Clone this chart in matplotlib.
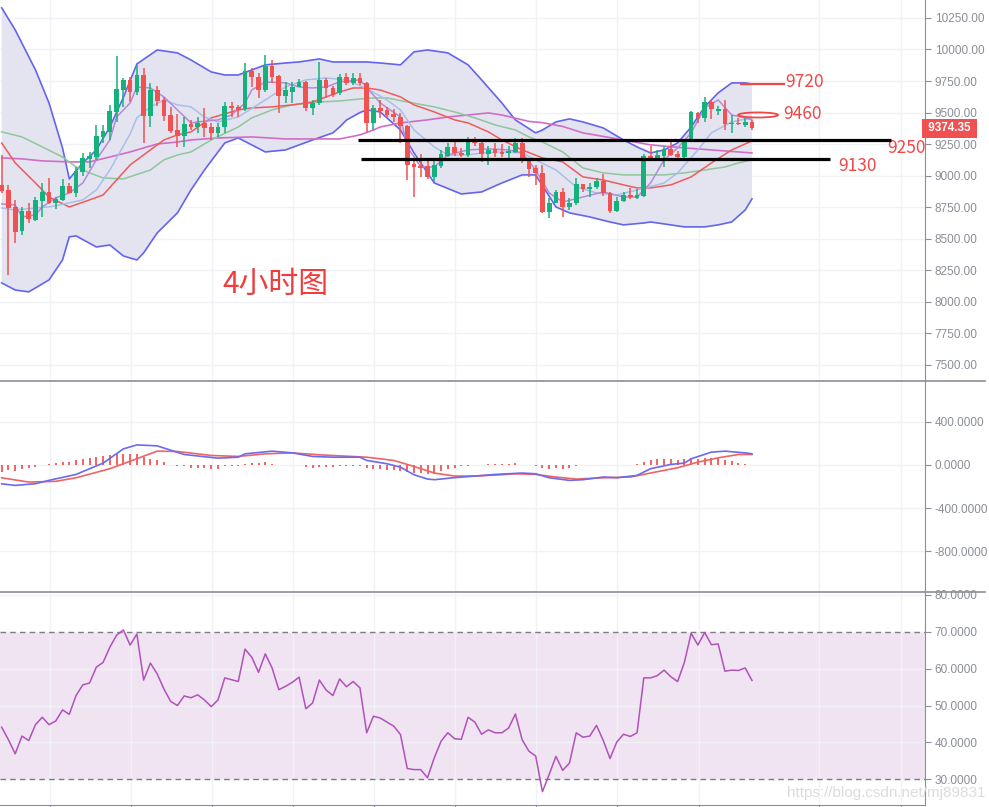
import numpy as np
import matplotlib
matplotlib.use('Agg')
import matplotlib.pyplot as plt
import matplotlib.transforms as mtransforms
from matplotlib.lines import Line2D
from matplotlib.patches import Ellipse

# ---- 4h candles ----
opens = [8926, 8886, 8754, 8564, 8720, 8649, 8802, 8873, 8786, 8807,
         8921, 8865, 9032, 9130, 9146, 9309, 9349, 9508, 9679, 9759,
         9666, 9798, 9476, 9679, 9600, 9481, 9362, 9315, 9410, 9389,
         9415, 9383, 9336, 9383, 9552, 9542, 9526, 9833, 9780, 9679,
         9872, 9790, 9634, 9666, 9706, 9743, 9534, 9576, 9759, 9698,
         9653, 9780, 9732, 9772, 9732, 9415, 9539, 9521, 9489, 9468,
         9394, 9093, 9077, 9077, 8993, 9077, 9156, 9225, 9183, 9164,
         9278, 9257, 9172, 9209, 9191, 9177, 9191, 9262, 9125, 9058,
         9019, 8715, 8786, 8874, 8749, 8781, 8934, 8895, 8908, 8961,
         8866, 8723, 8802, 8847, 8826, 8839, 9156, 9138, 9156, 9209,
         9172, 9151, 9283, 9500, 9455, 9582, 9516, 9529, 9407, 9418,
         9405, 9428]
highs = [9164, 8926, 8807, 8754, 8781, 8834, 8940, 8984, 8834, 8974,
         8945, 9071, 9177, 9190, 9402, 9402, 9560, 9949, 9772, 9785,
         9877, 9851, 9732, 9711, 9626, 9542, 9486, 9468, 9440, 9468,
         9534, 9420, 9420, 9587, 9587, 9560, 9891, 9851, 9811, 9957,
         9917, 9798, 9745, 9745, 9764, 9753, 9600, 9904, 9772, 9711,
         9806, 9811, 9811, 9811, 9745, 9561, 9600, 9547, 9526, 9494,
         9402, 9130, 9172, 9125, 9130, 9204, 9262, 9270, 9217, 9304,
         9310, 9283, 9236, 9257, 9251, 9236, 9296, 9296, 9138, 9085,
         9085, 8821, 8886, 8900, 8821, 8979, 8934, 8940, 8979, 9014,
         8874, 8829, 8874, 8900, 8892, 9172, 9236, 9204, 9236, 9278,
         9198, 9288, 9516, 9508, 9627, 9600, 9552, 9600, 9481, 9455,
         9455, 9440]
lows = [8860, 8213, 8469, 8530, 8622, 8644, 8670, 8776, 8736, 8800,
        8860, 8834, 8997, 9058, 9124, 9262, 9283, 9428, 9547, 9587,
        9640, 9262, 9383, 9552, 9434, 9341, 9230, 9230, 9360, 9341,
        9304, 9283, 9304, 9336, 9468, 9468, 9515, 9706, 9613, 9666,
        9732, 9494, 9579, 9574, 9700, 9515, 9481, 9560, 9613, 9626,
        9640, 9719, 9719, 9719, 9349, 9362, 9455, 9455, 9428, 9257,
        8966, 8829, 8993, 8971, 8953, 9059, 9146, 9156, 9146, 9151,
        9236, 9111, 9085, 9146, 9146, 9138, 9183, 9103, 8987, 8926,
        8702, 8662, 8781, 8675, 8728, 8768, 8874, 8834, 8892, 8839,
        8707, 8715, 8794, 8813, 8813, 8834, 9130, 9125, 9066, 9156,
        9130, 9119, 9270, 9415, 9428, 9447, 9481, 9362, 9341, 9402,
        9383, 9362]
closes = [8881, 8747, 8556, 8720, 8654, 8807, 8868, 8781, 8815, 8918,
          8865, 9037, 9138, 9156, 9315, 9354, 9513, 9685, 9759, 9666,
          9798, 9476, 9679, 9595, 9476, 9354, 9315, 9410, 9384, 9420,
          9381, 9336, 9383, 9552, 9534, 9521, 9833, 9780, 9679, 9872,
          9785, 9634, 9679, 9700, 9743, 9534, 9579, 9759, 9693, 9640,
          9780, 9732, 9772, 9732, 9415, 9539, 9516, 9481, 9463, 9394,
          9085, 9072, 9059, 8993, 9085, 9172, 9225, 9177, 9164, 9278,
          9257, 9172, 9204, 9183, 9172, 9198, 9262, 9125, 9051, 9019,
          8715, 8786, 8874, 8749, 8786, 8934, 8892, 8908, 8961, 8866,
          8723, 8802, 8847, 8829, 8847, 9156, 9138, 9164, 9209, 9164,
          9151, 9283, 9508, 9455, 9582, 9526, 9526, 9407, 9418, 9407,
          9428, 9374.35]

# ---- indicator lines (candle index, value) ----
bb_up_i = [0, 2, 5, 7, 9, 10, 12, 14, 16, 18, 20, 23, 26, 28, 31, 33, 35, 37, 39, 42,
           44, 47, 49, 52, 54, 56, 59, 61, 63, 66, 69, 71, 74, 76, 79, 80, 82, 84, 86, 89,
           92, 94, 96, 98, 100, 102, 104, 106, 108, 110, 111]
bb_up = [10330, 10155, 9838, 9576, 9220, 8974, 9101, 9204, 9386, 9620, 9885, 9996, 9973, 9917, 9822, 9798, 9798, 9838, 9878, 9893,
         9901, 9925, 9901, 9901, 9901, 9893, 9878, 9981, 9996, 9973, 9878, 9759, 9576, 9442, 9339, 9362, 9426, 9450, 9426, 9378,
         9283, 9228, 9180, 9204, 9259, 9386, 9545, 9656, 9735, 9735, 9727]
bb_lo_i = [0, 2, 4, 7, 9, 10, 11, 14, 16, 18, 20, 21, 23, 26, 28, 30, 33, 35, 39, 42,
           46, 49, 50, 51, 53, 54, 56, 59, 61, 64, 68, 71, 74, 77, 79, 82, 84, 87, 90, 92,
           95, 96, 99, 101, 104, 106, 108, 110, 111]
bb_lo = [8150, 8094, 8079, 8174, 8332, 8515, 8523, 8435, 8451, 8364, 8332, 8388, 8546, 8705, 8887, 9045, 9259, 9299, 9188, 9204,
         9283, 9339, 9386, 9440, 9500, 9521, 9505, 9362, 9180, 8942, 8855, 8871, 8942, 9006, 9006, 8752, 8705, 8673, 8633, 8610,
         8625, 8633, 8610, 8594, 8594, 8610, 8633, 8728, 8816]
mid_i = [0, 2, 5, 7, 10, 12, 14, 16, 19, 20, 22, 24, 26, 28, 30, 32, 35, 39, 42, 45,
         48, 51, 54, 57, 59, 61, 64, 66, 69, 71, 74, 77, 79, 82, 85, 88, 91, 94, 98, 100,
         103, 105, 108, 111]
mid = [8744, 8728, 8744, 8752, 8784, 8808, 8887, 9045, 9330, 9458, 9545, 9600, 9561, 9545, 9465, 9426, 9465, 9600, 9703, 9759,
       9774, 9759, 9690, 9600, 9521, 9362, 9228, 9164, 9164, 9180, 9188, 9180, 9125, 9045, 8911, 8863, 8847, 8887, 8942, 9022,
       9204, 9339, 9426, 9458]
pur_i = [0, 2, 3, 5, 6, 8, 10, 12, 14, 16, 17, 19, 20, 22, 24, 26, 28, 29, 32, 34,
         36, 37, 39, 42, 44, 46, 48, 50, 53, 54, 56, 59, 60, 62, 64, 66, 69, 72, 75, 77,
         79, 81, 83, 86, 89, 92, 94, 96, 98, 100, 102, 104, 106, 108, 110, 111]
pur = [8776, 8768, 8673, 8689, 8752, 8824, 8863, 8942, 9125, 9283, 9465, 9576, 9703, 9695, 9624, 9521, 9418, 9426, 9442, 9481,
       9576, 9679, 9743, 9735, 9703, 9695, 9703, 9743, 9759, 9700, 9576, 9465, 9228, 9069, 9069, 9164, 9204, 9212, 9204, 9180,
       9045, 8863, 8792, 8831, 8871, 8831, 8831, 8942, 9125, 9220, 9339, 9537, 9600, 9481, 9458, 9442]
red_i = [0, 2, 5, 7, 10, 13, 15, 17, 19, 22, 24, 26, 28, 31, 35, 37, 40, 43, 46, 48,
         50, 52, 54, 56, 59, 61, 64, 67, 69, 72, 74, 77, 80, 83, 86, 89, 92, 94, 96, 99,
         102, 105, 108, 111]
red = [9259, 9101, 8942, 8831, 8752, 8808, 8847, 8966, 9085, 9204, 9283, 9323, 9347, 9458, 9521, 9537, 9545, 9561, 9584, 9624,
       9664, 9695, 9695, 9679, 9624, 9561, 9505, 9442, 9418, 9347, 9283, 9204, 9141, 9109, 8990, 8966, 8927, 8903, 8903, 8927,
       8990, 9101, 9204, 9275]
grn_i = [0, 3, 6, 9, 11, 13, 15, 18, 22, 24, 26, 28, 31, 35, 37, 40, 43, 47, 50, 53,
         55, 57, 60, 64, 67, 70, 73, 76, 78, 80, 83, 86, 89, 92, 95, 98, 101, 104, 107, 109,
         111]
grn = [9347, 9307, 9228, 9148, 9069, 9022, 8982, 8974, 9045, 9125, 9164, 9188, 9283, 9386, 9458, 9521, 9561, 9584, 9592, 9608,
       9616, 9616, 9584, 9545, 9505, 9458, 9402, 9362, 9307, 9267, 9188, 9061, 9022, 9006, 9006, 9006, 9022, 9045, 9069, 9101,
       9125]
mag_i = [0, 3, 6, 10, 13, 16, 19, 21, 23, 26, 28, 32, 37, 42, 47, 50, 53, 55, 56, 59,
         63, 66, 69, 72, 74, 78, 80, 83, 86, 92, 96, 101, 111]
mag = [9141, 9133, 9117, 9109, 9109, 9148, 9188, 9220, 9251, 9267, 9283, 9299, 9307, 9291, 9291, 9291, 9323, 9362, 9386, 9418,
       9442, 9465, 9481, 9497, 9481, 9430, 9420, 9390, 9339, 9283, 9244, 9220, 9180]

# ---- MACD ----
dif_i = [0, 2, 5, 7, 11, 15, 18, 20, 23, 27, 32, 35, 36, 40, 43, 46, 49, 53, 54, 57,
         59, 61, 63, 64, 67, 70, 73, 77, 79, 81, 84, 86, 89, 91, 94, 96, 99, 101, 102, 105,
         107, 110, 111]
dif = [-175, -190, -174, -143, -88, 17, 149, 186, 177, 97, 63, 72, 103, 128, 112, 79, 72, 72, 42, 11,
       -20, -91, -131, -137, -118, -103, -88, -75, -82, -119, -143, -137, -112, -119, -97, -35, 5, 17, 57, 119,
       128, 112, 103]
dea_i = [0, 4, 8, 11, 16, 19, 23, 26, 31, 35, 39, 43, 47, 54, 58, 61, 64, 67, 70, 74,
         76, 79, 82, 85, 89, 93, 96, 100, 103, 106, 109, 111]
dea = [-119, -159, -152, -119, -35, 35, 128, 125, 88, 79, 103, 112, 94, 72, 42, -14, -75, -103, -103, -91,
       -82, -88, -112, -131, -119, -112, -75, -26, 26, 66, 97, 97]
hist = [-66, -51, -57, -35, -26, -20, -3, 5, 17, 26,
        26, 42, 51, 63, 72, 79, 88, 97, 103, 97,
        97, 72, 57, 42, 26, 3, -14, -14, -26, -26,
        -26, -35, -35, -14, -14, -8, 5, 17, 17, 26,
        11, 2, -2, 2, -3, -20, -26, -20, -20, -20,
        -11, -11, -8, -8, -26, -35, -35, -45, -51, -57,
        -66, -75, -75, -82, -82, -57, -35, -26, -14, -8,
        -2, 3, 5, 5, 5, 11, 17, 2, -1, -14,
        -26, -35, -26, -35, -26, -14, -5, -2, 3, 3,
        1, 0, -1, 3, 11, 26, 42, 51, 51, 51,
        42, 51, 66, 57, 66, 63, 66, 42, 32, 17,
        11, 2]

# ---- RSI ----
rsi = [44.1, 40.7, 36.9, 41.7, 40.5, 44.8, 46.8, 44.8, 45.8, 48.8,
       47.6, 52.7, 55.6, 56.1, 60.4, 61.7, 65.8, 69.1, 70.5, 66.4,
       69.4, 56.9, 61.5, 58.6, 54.5, 51.1, 50.0, 52.6, 52.1, 52.9,
       51.5, 49.7, 51.5, 57.5, 57.0, 56.5, 65.3, 63.1, 59.0, 64.0,
       60.2, 54.3, 55.2, 56.3, 57.7, 49.1, 50.7, 56.9, 54.2, 52.7,
       57.2, 55.1, 56.5, 54.8, 42.6, 47.1, 46.6, 45.5, 44.4, 42.1,
       32.9, 32.6, 32.6, 30.4, 35.8, 40.3, 42.6, 41.0, 40.8, 46.8,
       45.5, 42.2, 43.4, 42.6, 42.6, 43.9, 47.7, 40.7, 37.6, 36.3,
       26.6, 31.3, 36.2, 32.4, 34.4, 42.6, 41.4, 41.7, 44.6, 40.5,
       35.6, 40.1, 42.2, 41.6, 42.6, 57.5, 57.5, 58.1, 59.6, 57.8,
       56.5, 61.7, 69.6, 66.4, 69.8, 66.5, 66.7, 59.3, 59.6, 59.5,
       60.2, 56.8]

# drawn levels / notes
support_levels = [9283, 9133]
note_9720 = 9727
note_9460 = 9481

UP = '#16b07d'
DOWN = '#f05252'
GRAY = '#8a8e97'
GRID = '#f1f2f5'
LBL = '#f04848'
CJK = ['Noto Sans CJK SC', 'DejaVu Sans']

plt.rcParams['font.family'] = ['Liberation Sans', 'DejaVu Sans']

W, H = 989, 807
fig = plt.figure(figsize=(W / 100, H / 100), dpi=100)
fig.patch.set_facecolor('white')
axw = 925 / W
ax1 = fig.add_axes([0, 1 - 381 / H, axw, 381 / H])
ax2 = fig.add_axes([0, 1 - 592 / H, axw, 211 / H])
ax3 = fig.add_axes([0, 1 - 805 / H, axw, 213 / H])

x = np.arange(len(closes))
xgrid = [7.1, 19.1, 31.1, 43.1, 55.1, 67.1, 79.1, 91.1, 103.1, 120.9, 133.0]

for ax in (ax1, ax2, ax3):
    ax.set_xlim(-0.25, 136.6)
    for s in ('top', 'left', 'bottom'):
        ax.spines[s].set_visible(False)
    ax.spines['right'].set_color(GRAY)
    ax.yaxis.tick_right()
    ax.set_xticks(xgrid)
    ax.set_xticklabels([])
    ax.tick_params(axis='x', length=0)
    ax.tick_params(axis='y', length=4, color=GRAY, labelcolor=GRAY, labelsize=8.5, pad=3)
    ax.grid(True, color=GRID, lw=1, zorder=0)
    ax.set_axisbelow(True)

# ---- price panel ----
ax1.set_ylim(7373, 10392)
ax1.set_yticks(np.arange(7500, 10251, 250))
ax1.yaxis.set_major_formatter(plt.FormatStrFormatter('%.2f'))

poly_x = np.concatenate([bb_up_i, bb_lo_i[::-1]])
poly_y = np.concatenate([bb_up, bb_lo[::-1]])
ax1.fill(poly_x, poly_y, color='#e4e4f0', zorder=1, lw=0)
ax1.plot(bb_up_i, bb_up, color='#6464ee', lw=1.2, zorder=2)
ax1.plot(bb_lo_i, bb_lo, color='#6464ee', lw=1.2, zorder=2)
ax1.plot(mag_i, mag, color='#d36cc6', lw=1.2, zorder=2)
ax1.plot(grn_i, grn, color='#8dc79b', lw=1.1, zorder=2)
ax1.plot(red_i, red, color='#ef5b5b', lw=1.1, zorder=2)
ax1.plot(mid_i, mid, color='#a8c0e6', lw=1.1, zorder=2)
ax1.plot(pur_i, pur, color='#b58ad8', lw=1.1, zorder=2)

o = np.array(opens, float)
c = np.array(closes, float)
cols = [UP if cc >= oo else DOWN for oo, cc in zip(o, c)]
ax1.vlines(x, lows, highs, colors=cols, lw=1.1, zorder=3)
body = np.maximum(np.abs(c - o), 14)
ax1.bar(x, body, bottom=np.minimum(o, c), width=0.7, color=cols, zorder=4, lw=0)

# support lines and notes
ax1.hlines(support_levels[0], 52.7, 131.6, color='black', lw=2.3, zorder=5)
ax1.hlines(support_levels[1], 53.2, 122.5, color='black', lw=2.3, zorder=5)
ax1.hlines(note_9720, 109.2, 115.9, color=LBL, lw=1.6, zorder=5)
ax1.add_patch(Ellipse((111.9, note_9460), 5.9, 40, fill=False, ec=LBL, lw=1.3, zorder=5))
ax1.text(115.9, 9740, '9720', color=LBL, fontsize=12.5, family=CJK, va='center', ha='left')
ax1.text(115.6, 9492, '9460', color=LBL, fontsize=12.5, family=CJK, va='center', ha='left')
ax1.text(131.0, 9222, '9250', color=LBL, fontsize=12.5, family=CJK, va='center', ha='left')
ax1.text(123.7, 9080, '9130', color=LBL, fontsize=12.5, family=CJK, va='center', ha='left')
ax1.text(32.6, 8140, '4小时图', color='#f03c3c', fontsize=21.5, family=CJK, va='center', ha='left')

trans = mtransforms.blended_transform_factory(ax1.transAxes, ax1.transData)
ax1.text(1.0, closes[-1], ' %.2f ' % closes[-1], transform=trans, color='white', fontsize=8.5,
         fontweight='bold', va='center', ha='left', clip_on=False, zorder=10,
         bbox=dict(boxstyle='square,pad=0.28', fc='#f05050', ec='none'))

# ---- MACD panel ----
ax2.set_ylim(-1179, 779)
ax2.set_yticks([-800, -400, 0, 400])
ax2.yaxis.set_major_formatter(plt.FormatStrFormatter('%.4f'))
ax2.vlines(x, 0, hist, colors='#f04848', lw=1.2, zorder=2)
ax2.plot(dea_i, dea, color='#f06464', lw=1.2, zorder=3)
ax2.plot(dif_i, dif, color='#6a6af0', lw=1.2, zorder=3)

# ---- RSI panel ----
ax3.set_ylim(23, 80.8)
ax3.set_yticks([30, 40, 50, 60, 70, 80])
ax3.yaxis.set_major_formatter(plt.FormatStrFormatter('%.4f'))
ax3.axhspan(30, 70, color='#f0e4f2', zorder=0.5, lw=0)
ax3.axhline(70, color='#7d7b85', lw=1, dashes=(4, 3), zorder=1)
ax3.axhline(30, color='#7d7b85', lw=1, dashes=(4, 3), zorder=1)
ax3.plot(x, rsi, color='#b151bb', lw=1.1, zorder=3)
ax3.spines['bottom'].set_visible(True)
ax3.spines['bottom'].set_color(GRAY)
ax3.tick_params(axis='x', length=5, color=GRAY, direction='out')

# separators between panels
for ypx in (381, 592):
    fig.add_artist(Line2D([0, 985 / W], [1 - ypx / H, 1 - ypx / H], color=GRAY, lw=1.2))

fig.text(985 / W, 1 - 793 / H, 'https://blog.csdn.net/mj89831', color='#d8d8d8', fontsize=11,
         ha='right', va='center', alpha=0.9)

fig.savefig('out.png', dpi=100)
